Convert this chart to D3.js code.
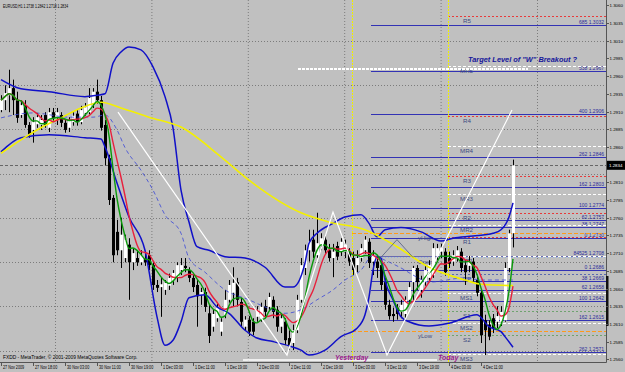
<!DOCTYPE html>
<html><head><meta charset="utf-8">
<script src="https://cdn.jsdelivr.net/npm/d3@7/dist/d3.min.js"></script>
<style>html,body{margin:0;padding:0;background:#c0c0c0;overflow:hidden}svg{display:block;font-family:"Liberation Sans",Arial,sans-serif}</style>
</head><body><svg id="c" width="625" height="372"></svg>
<script>
// ---------- DATA ----------
const symbolTitle = "EURUSD,H1  1.2738 1.2842 1.2718 1.2834";
const opens = [1.2912,
1.2926,1.2933,1.2943,1.2926,1.2905,1.2919,1.2891,1.2884,1.2892,1.2891,
1.2905,1.2887,1.2909,1.2901,1.2905,1.2894,1.2887,1.2895,1.2907,1.2895,
1.2908,1.2909,1.2921,1.2938,1.2926,1.2891,1.2844,1.2788,1.2740,1.2714,
1.2703,1.2722,1.2697,1.2703,1.2697,1.2703,1.2707,1.2693,1.2665,1.2662,
1.2658,1.2664,1.2671,1.2675,1.2686,1.2692,1.2686,1.2675,1.2665,1.2651,
1.2655,1.2625,1.2606,1.2618,1.2599,1.2623,1.2644,1.2654,1.2669,1.2641,
1.2606,1.2616,1.2613,1.2620,1.2618,1.2635,1.2634,1.2644,1.2630,1.2606,
1.2613,1.2590,1.2583,1.2601,1.2644,1.2689,1.2714,1.2729,1.2707,1.2722,
1.2729,1.2714,1.2703,1.2720,1.2712,1.2712,1.2712,1.2703,1.2693,1.2703,
1.2714,1.2726,1.2698,1.2698,1.2693,1.2669,1.2637,1.2624,1.2633,1.2627,
1.2624,1.2644,1.2669,1.2689,1.2658,1.2669,1.2675,1.2679,1.2706,1.2712,
1.2712,1.2703,1.2698,1.2703,1.2712,1.2693,1.2692,1.2698,1.2672,1.2654,
1.2615,1.2609,1.2618,1.2613,1.2613,1.2615,1.2689,1.2738];
const highs = [1.2933,
1.2947,1.2969,1.2955,1.2938,1.2926,1.2926,1.2895,1.2902,1.2908,1.2905,
1.2909,1.2915,1.2915,1.2915,1.2909,1.2898,1.2902,1.2909,1.2912,1.2918,
1.2922,1.2943,1.2943,1.2955,1.2932,1.2898,1.2849,1.2792,1.2757,1.2760,
1.2736,1.2731,1.2717,1.2714,1.2714,1.2712,1.2714,1.2697,1.2672,1.2675,
1.2672,1.2681,1.2686,1.2697,1.2703,1.2703,1.2690,1.2679,1.2672,1.2661,
1.2661,1.2637,1.2630,1.2638,1.2618,1.2658,1.2672,1.2690,1.2675,1.2647,
1.2621,1.2621,1.2618,1.2635,1.2640,1.2644,1.2654,1.2649,1.2635,1.2624,
1.2618,1.2601,1.2609,1.2651,1.2703,1.2722,1.2743,1.2743,1.2767,1.2738,
1.2736,1.2723,1.2723,1.2726,1.2731,1.2729,1.2717,1.2712,1.2714,1.2723,
1.2734,1.2731,1.2714,1.2707,1.2700,1.2675,1.2644,1.2633,1.2638,1.2644,
1.2649,1.2669,1.2692,1.2693,1.2678,1.2692,1.2700,1.2724,1.2723,1.2723,
1.2717,1.2712,1.2714,1.2720,1.2717,1.2700,1.2706,1.2703,1.2679,1.2658,
1.2623,1.2615,1.2624,1.2635,1.2635,1.2697,1.2743,1.2842];
const lows = [1.2909,
1.2912,1.2909,1.2905,1.2894,1.2901,1.2887,1.2873,1.2866,1.2887,1.2884,
1.2887,1.2881,1.2895,1.2891,1.2888,1.2880,1.2881,1.2890,1.2890,1.2892,
1.2904,1.2906,1.2915,1.2921,1.2883,1.2834,1.2778,1.2697,1.2707,1.2689,
1.2697,1.2644,1.2686,1.2692,1.2693,1.2692,1.2686,1.2658,1.2655,1.2620,
1.2651,1.2658,1.2665,1.2669,1.2679,1.2683,1.2669,1.2655,1.2606,1.2637,
1.2627,1.2583,1.2599,1.2613,1.2593,1.2618,1.2640,1.2635,1.2635,1.2607,
1.2601,1.2593,1.2594,1.2613,1.2613,1.2618,1.2630,1.2618,1.2599,1.2597,
1.2580,1.2573,1.2573,1.2597,1.2640,1.2679,1.2698,1.2703,1.2703,1.2714,
1.2709,1.2698,1.2676,1.2700,1.2706,1.2703,1.2692,1.2679,1.2683,1.2698,
1.2709,1.2689,1.2679,1.2675,1.2658,1.2630,1.2616,1.2613,1.2616,1.2618,
1.2618,1.2638,1.2644,1.2658,1.2647,1.2664,1.2669,1.2675,1.2700,1.2703,
1.2678,1.2689,1.2692,1.2698,1.2683,1.2665,1.2683,1.2669,1.2649,1.2583,
1.2566,1.2587,1.2597,1.2604,1.2607,1.2613,1.2683,1.2718];
const closes = [1.2926,
1.2936,1.2943,1.2926,1.2901,1.2919,1.2891,1.2877,1.2895,1.2902,1.2898,
1.2891,1.2909,1.2901,1.2909,1.2894,1.2884,1.2898,1.2904,1.2895,1.2912,
1.2916,1.2929,1.2938,1.2926,1.2887,1.2844,1.2785,1.2707,1.2714,1.2736,
1.2729,1.2697,1.2710,1.2697,1.2707,1.2697,1.2693,1.2665,1.2661,1.2666,
1.2668,1.2675,1.2682,1.2693,1.2693,1.2689,1.2675,1.2662,1.2649,1.2655,
1.2634,1.2593,1.2624,1.2633,1.2613,1.2644,1.2665,1.2668,1.2644,1.2613,
1.2616,1.2599,1.2599,1.2630,1.2634,1.2627,1.2648,1.2627,1.2606,1.2618,
1.2587,1.2580,1.2601,1.2644,1.2693,1.2714,1.2726,1.2712,1.2724,1.2731,
1.2714,1.2703,1.2712,1.2705,1.2726,1.2722,1.2698,1.2686,1.2703,1.2717,
1.2729,1.2696,1.2707,1.2689,1.2665,1.2637,1.2621,1.2621,1.2624,1.2637,
1.2644,1.2662,1.2689,1.2669,1.2672,1.2686,1.2693,1.2717,1.2717,1.2717,
1.2683,1.2695,1.2707,1.2714,1.2689,1.2683,1.2698,1.2675,1.2654,1.2594,
1.2601,1.2592,1.2604,1.2621,1.2627,1.2689,1.2738,1.2834];

const dateIdx = [0,8,16,24,32,40,48,56,64,72,80,88,96,104,112,120];
const dateLabels = ["27 Nov 2009","27 Nov 18:00","30 Nov 03:00","30 Nov 11:00","30 Nov 19:00",
 "1 Dec 03:00","1 Dec 11:00","1 Dec 19:00","2 Dec 03:00","2 Dec 11:00","2 Dec 19:00",
 "3 Dec 03:00","3 Dec 11:00","3 Dec 19:00","4 Dec 03:00","4 Dec 11:00"];
const priceTicks = [1.3060,1.3035,1.3010,1.2985,1.2960,1.2935,1.2910,1.2885,1.2860,
 1.2810,1.2785,1.2760,1.2735,1.2710,1.2685,1.2660,1.2635,1.2610,1.2585,1.2560];
const lastPrice = 1.2834;

// moving average (yellow)
const maIdx = [0,5,10,15,20,25,30,37,45,55,62,75,82,91,99,107,116,120,128];
const maVal = [1.2851,1.2870,1.2887,1.2901,1.2915,1.2923,1.2915,1.2902,1.2888,1.2846,1.2813,1.2767,1.2754,1.2743,1.2719,1.2690,1.2672,1.2666,1.2664];
// Bollinger bands
const bbUpIdx = [0,5,12,21,24,26,28,30,32,35,38,41,43,45,47,49,52,56,61,66,71,73,76,77,79,83,86,90,92,94,96,100,105,110,113,118,123,125,127,128];
const bbUpVal = [1.2955,1.2942,1.2938,1.2931,1.2933,1.2935,1.2978,1.2994,1.3001,1.2997,1.2973,1.2931,1.2887,1.2799,1.2754,1.2719,1.2714,1.2705,1.2703,1.2690,1.2662,1.2662,1.2696,1.2724,1.2738,1.2752,1.2761,1.2764,1.2752,1.2733,1.2743,1.2746,1.2740,1.2727,1.2731,1.2734,1.2738,1.2743,1.2761,1.2781];
const bbLoIdx = [0,5,12,21,25,26,29,32,36,39,41,43,45,47,51,54,57,61,64,68,72,75,77,81,85,89,91,92,93,94,95,96,98,100,102,107,112,119,122,125,126,128];
const bbLoVal = [1.2853,1.2873,1.2877,1.2873,1.2871,1.2860,1.2809,1.2761,1.2714,1.2620,1.2580,1.2587,1.2613,1.2647,1.2651,1.2634,1.2625,1.2601,1.2590,1.2585,1.2579,1.2573,1.2566,1.2573,1.2592,1.2604,1.2623,1.2648,1.2686,1.2705,1.2703,1.2672,1.2644,1.2620,1.2613,1.2607,1.2611,1.2623,1.2606,1.2599,1.2592,1.2577];
const bbMidIdx = [0,8,17,23,26,29,31,35,38,41,45,47,51,56,62,66,71,75,79,83,86,90,93,96,100,104,107,116,120,128];
const bbMidVal = [1.2901,1.2908,1.2902,1.2902,1.2905,1.2884,1.2859,1.2827,1.2799,1.2764,1.2738,1.2703,1.2683,1.2658,1.2644,1.2634,1.2625,1.2630,1.2644,1.2658,1.2672,1.2686,1.2707,1.2700,1.2689,1.2676,1.2669,1.2675,1.2672,1.2672];
const fastPeriod = 5, slowPeriod = 8;

// Fibonacci levels
const fibLabels = ["685 1.3032","538 1.2967","400 1.2906","262 1.2846","162 1.2803","100 1.2774","62 1.2757","38 1.2747","0 1.2730","84525 1.2708","0 1.2686","38 1.2669","62 1.2658","100 1.2642","162 1.2615","262 1.2571"];
const fibPrices = [1.3032,1.2967,1.2906,1.2846,1.2803,1.2774,1.2757,1.2747,1.2731,1.2706,1.2686,1.2671,1.2658,1.2642,1.2615,1.2571];
// Pivot levels
const pivotNames = ["R5","MR5","R4","MR4","R3","MR3","R2","MR2","R1","MR1","PP","MS1","S1","MS2","S2","MS3"];
const pivotPrices = [1.3045,1.2974,1.2904,1.2861,1.2819,1.2793,1.2767,1.2749,1.2733,1.2706,1.2681,1.2653,1.2628,1.2611,1.2595,1.2568];
// yesterday levels
const dayNames = ["yHigh","Open","yLow"];
const dayPrices = [1.2738,1.2704,1.2600];
const yesterdayIdx = 87.75, todayIdx = 111.75, fibStartIdx = 92.5;
// "W" pattern trendline
const wIdx = [29.25,71.5,83,96.5,127.75];
const wVal = [1.2909,1.2566,1.2768,1.2566,1.2912];
const targetLevel = 1.2970, targetFrom = 74.25, targetTo = 131.75;
const baseLine = 1.2559, baseFrom = 60.5, baseTo = 109;
const zigIdx = [95,99,103], zigVal = [1.2704,1.2729,1.2704];

// ---------- CHART ----------
const W = 625, H = 372, PR = 606, PB = 362;
const svg = d3.select("#c");
const x = d3.scaleLinear().domain([0,128]).range([1,513]);
const y = d3.scaleLinear().domain([1.2560,1.3060]).range([359.3,5.3]);
const n = closes.length;

function squeeze(sel, k){ sel.each(function(){ const L=this.getComputedTextLength(); d3.select(this).attr("textLength",L*k).attr("lengthAdjust","spacingAndGlyphs"); }); return sel; }

svg.append("rect").attr("width",W).attr("height",H).attr("fill","#c0c0c0");
svg.append("clipPath").attr("id","pc").append("rect").attr("width",PR).attr("height",PB);
const g = svg.append("g").attr("clip-path","url(#pc)");

// grid
const gridX = [55,151.4,247.8,344.2,440.6,537];
gridX.forEach(gx => g.append("line").attr("x1",gx+0.5).attr("x2",gx+0.5).attr("y1",0).attr("y2",PB)
  .attr("stroke","#7c7c7c").attr("stroke-dasharray","1,2"));
const gridP = [1.3010,1.2947,1.2885,1.2822,1.2760,1.2697,1.2635,1.2572];
gridP.forEach(p => g.append("line").attr("x1",0).attr("x2",PR).attr("y1",Math.round(y(p))+0.5).attr("y2",Math.round(y(p))+0.5)
  .attr("stroke","#7c7c7c").attr("stroke-dasharray","1,2"));

// bid line
g.append("line").attr("x1",0).attr("x2",PR).attr("y1",Math.round(y(lastPrice))+0.5).attr("y2",Math.round(y(lastPrice))+0.5)
  .attr("stroke","#666").attr("stroke-dasharray","3,2");

// fib lines
fibPrices.forEach((p,i) => {
  const yy = Math.round(y(p))+0.5;
  g.append("line").attr("x1",x(fibStartIdx)).attr("x2",PR).attr("y1",yy).attr("y2",yy)
    .attr("stroke", fibLabels[i].startsWith("84525") ? "#6a6ab0" : "#3232b4").attr("stroke-width",1);
  g.append("text").attr("x",PR-2).attr("y",yy-1.5).attr("text-anchor","end")
    .attr("font-size",5).attr("fill","#2a2a9a").text(fibLabels[i]);
});

// yesterday levels
const dayColor = {yHigh:"#ff9a1a", Open:"#8fb4e0", yLow:"#ff9a1a"};
dayPrices.forEach((p,i) => {
  const yy = Math.round(y(p))+0.5;
  g.append("line").attr("x1",x(yesterdayIdx)).attr("x2",PR).attr("y1",yy).attr("y2",yy)
    .attr("stroke",dayColor[dayNames[i]]).attr("stroke-dasharray", i===1?"1,2":"4,2");
  g.append("text").attr("x",418).attr("y",yy+6).attr("font-size",6).attr("fill","#3d4a80").text(dayNames[i]);
});

// pivot lines
pivotNames.forEach((nm,i) => {
  const yy = Math.round(y(pivotPrices[i]))+0.5;
  let col = "#e83a3a", dash = "2,2";
  if (nm.startsWith("M")) { col = "#ffffff"; dash = "3,2"; }
  else if (nm.startsWith("S")) { col = "#6fa36f"; dash = "2,2"; }
  else if (nm === "PP") { col = "#5a6ab0"; dash = "2,2"; }
  g.append("line").attr("x1",x(todayIdx)).attr("x2",PR).attr("y1",yy).attr("y2",yy)
    .attr("stroke",col).attr("stroke-dasharray",dash);
  g.append("text").attr("x", nm.startsWith("M") ? 460 : 463).attr("y",yy+6).attr("font-size",6.2)
    .attr("fill","#3d4a80").text(nm);
});

// vertical day separators
[yesterdayIdx,todayIdx].forEach(v => g.append("line").attr("x1",Math.round(x(v))+0.5).attr("x2",Math.round(x(v))+0.5)
  .attr("y1",0).attr("y2",PB).attr("stroke","#f0f000").attr("stroke-dasharray","2,1"));

// candles
const cg = g.append("g");
for (let j=0;j<n;j++){
  const cx = Math.round(x(j));
  const o=opens[j], c=closes[j];
  cg.append("line").attr("x1",cx+0.5).attr("x2",cx+0.5).attr("y1",y(highs[j])).attr("y2",y(lows[j]))
    .attr("stroke","#000").attr("stroke-width",1);
  const top = y(Math.max(o,c)), bot = y(Math.min(o,c));
  cg.append("rect").attr("x",cx-1).attr("y",top).attr("width",3).attr("height",Math.max(1,bot-top))
    .attr("fill", c>=o ? "#ffffff" : "#000000");
}

// indicator lines
const lineGen = d3.line().x(d=>x(d[0])).y(d=>y(d[1])).curve(d3.curveMonotoneX);
const zipp = (a,b)=>a.map((v,i)=>[v,b[i]]);
g.append("path").attr("d",lineGen(zipp(bbMidIdx,bbMidVal))).attr("fill","none").attr("stroke","#3a46d8").attr("stroke-width",0.8).attr("stroke-dasharray","4,3");
g.append("path").attr("d",lineGen(zipp(bbUpIdx,bbUpVal))).attr("fill","none").attr("stroke","#1010c8").attr("stroke-width",1.5);
g.append("path").attr("d",lineGen(zipp(bbLoIdx,bbLoVal))).attr("fill","none").attr("stroke","#1010c8").attr("stroke-width",1.5);
g.append("path").attr("d",lineGen(zipp(maIdx,maVal))).attr("fill","none").attr("stroke","#f4f000").attr("stroke-width",1.6);

function sma(arr,p){ return arr.map((v,i)=>{ const s=Math.max(0,i-p+1); const w=arr.slice(s,i+1); return [i,d3.mean(w)]; }); }
g.append("path").attr("d",lineGen(sma(closes,slowPeriod))).attr("fill","none").attr("stroke","#e8203c").attr("stroke-width",1.4);
g.append("path").attr("d",lineGen(sma(closes,fastPeriod))).attr("fill","none").attr("stroke","#0a9a0a").attr("stroke-width",1.4);

// small zigzag
g.append("path").attr("d",d3.line().x(d=>x(d[0])).y(d=>y(d[1]))(zipp(zigIdx,zigVal))).attr("fill","none").attr("stroke","#505a80").attr("stroke-width",0.8);

// W pattern lines
const straight = d3.line().x(d=>x(d[0])).y(d=>y(d[1]));
g.append("path").attr("d",straight(zipp(wIdx,wVal))).attr("fill","none").attr("stroke","#ffffff").attr("stroke-width",1.2);
g.append("line").attr("x1",x(targetFrom)).attr("x2",x(targetTo)).attr("y1",y(targetLevel)).attr("y2",y(targetLevel))
  .attr("stroke","#ffffff").attr("stroke-width",2).attr("stroke-dasharray","3,1");
g.append("line").attr("x1",x(baseFrom)).attr("x2",x(baseTo)).attr("y1",y(baseLine)).attr("y2",y(baseLine))
  .attr("stroke","#ffffff").attr("stroke-width",1.5);

// texts in plot
g.append("text").attr("x",468).attr("y",62).attr("font-size",7.4).attr("font-weight","bold").attr("font-style","italic")
  .attr("fill","#16169a").text('Target Level of "W" Breakout ?');
g.append("text").attr("x",335).attr("y",359.5).attr("font-size",7).attr("font-weight","bold").attr("font-style","italic")
  .attr("fill","#9a1a8c").text("Yesterday");
g.append("text").attr("x",438).attr("y",359.5).attr("font-size",7).attr("font-weight","bold").attr("font-style","italic")
  .attr("fill","#9a1a8c").text("Today");
squeeze(g.append("text").attr("x",3).attr("y",8).attr("font-size",5).attr("fill","#000").text(symbolTitle), 0.68);
squeeze(g.append("text").attr("x",3).attr("y",359).attr("font-size",5.4).attr("fill","#000")
  .text("FXDD - MetaTrader, \u00a9 2001-2009 MetaQuotes Software Corp."), 0.9);

// frame
svg.append("line").attr("x1",PR+0.5).attr("x2",PR+0.5).attr("y1",0).attr("y2",PB+0.5).attr("stroke","#555");
svg.append("line").attr("x1",0).attr("x2",PR+0.5).attr("y1",PB+0.5).attr("y2",PB+0.5).attr("stroke","#555");
svg.append("rect").attr("x",PR).attr("y",Math.round(y(1.2677))).attr("width",2.5).attr("height",Math.round(y(1.2607)-y(1.2677))).attr("fill","#111");

// right axis
priceTicks.forEach(p => {
  const yy = Math.round(y(p))+0.5;
  svg.append("line").attr("x1",PR).attr("x2",PR+3).attr("y1",yy).attr("y2",yy).attr("stroke","#555");
  svg.append("text").attr("x",609.5).attr("y",Math.min(yy+1.6, 361)).attr("font-size",4.4).attr("fill","#000").text(d3.format(".4f")(p));
});
const ly = y(lastPrice);
svg.append("rect").attr("x",PR+1).attr("y",ly-4.5).attr("width",W-PR-1).attr("height",9).attr("fill","#000");
svg.append("text").attr("x",609).attr("y",ly+1.6).attr("font-size",4.4).attr("fill","#fff").text(d3.format(".4f")(lastPrice));

// bottom axis
dateIdx.forEach((j,k) => {
  const xx = Math.round(x(j))+0.5;
  svg.append("line").attr("x1",xx).attr("x2",xx).attr("y1",PB).attr("y2",PB+4).attr("stroke","#555");
  squeeze(svg.append("text").attr("x",xx+1.5).attr("y",369).attr("font-size",5.2).attr("fill","#000").text(dateLabels[k]), 0.72);
});
</script></body></html>
